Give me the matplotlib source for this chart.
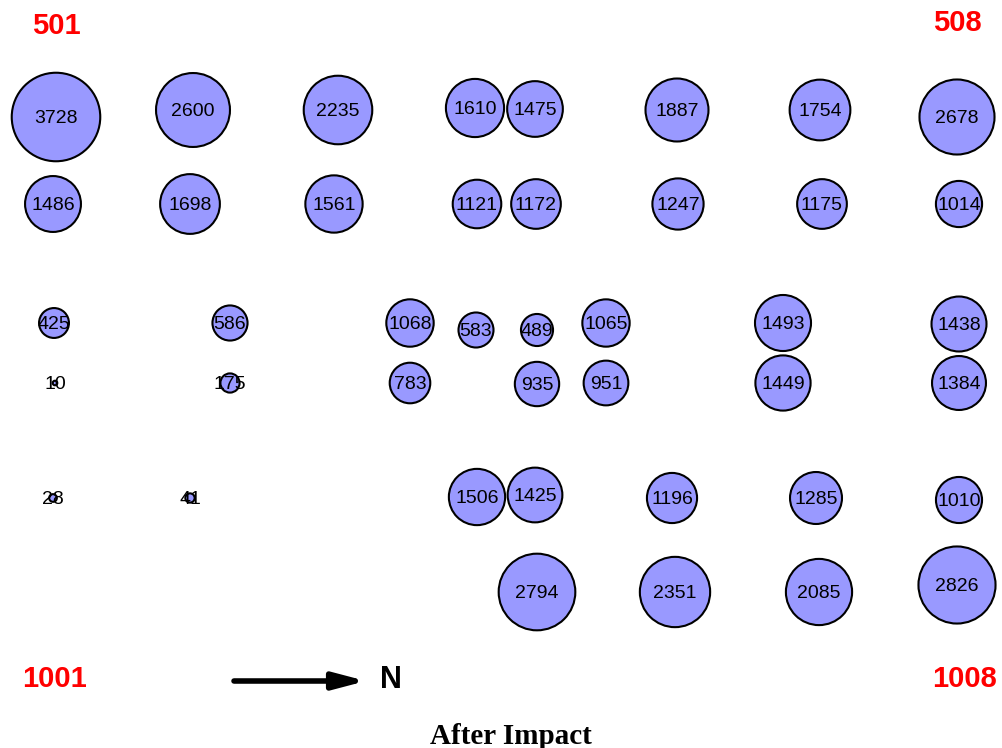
import matplotlib
matplotlib.use("Agg")
import matplotlib.pyplot as plt
from matplotlib.patches import Circle
import numpy as np

# plot layout (field coordinates) and counts after impact
counts = [3728, 2600, 2235, 1610, 1475, 1887, 1754, 2678,
          1486, 1698, 1561, 1121, 1172, 1247, 1175, 1014,
          425, 586, 1068, 583, 489, 1065, 1493, 1438,
          10, 175, 783, 935, 951, 1449, 1384,
          28, 41, 1506, 1425, 1196, 1285, 1010,
          2794, 2351, 2085, 2826]
plot_x = [56, 193, 338, 475, 535, 677, 820, 957,
          53, 190, 334, 477, 536, 678, 822, 959,
          54, 230, 410, 476, 537, 606, 783, 959,
          55, 230, 410, 537, 606, 783, 959,
          53, 190, 477, 535, 672, 816, 959,
          537, 675, 819, 957]
plot_y = [117, 110, 110, 108, 109, 110, 110, 117,
          204, 204, 204, 204, 204, 204, 204, 204,
          323, 323, 323, 330, 330, 323, 323, 324,
          383, 383, 383, 384, 383, 383, 383,
          498, 498, 497, 495, 498, 498, 500,
          592, 592, 592, 585]

corner_labels = ["501", "508", "1001", "1008"]
corner_x = [56, 957, 55, 965]
corner_y = [25, 22, 678, 678]

title = "After Impact"

fig = plt.figure(figsize=(10.03, 7.48), dpi=100)
ax = fig.add_axes([0, 0, 1, 1])
ax.set_xlim(0, 1003)
ax.set_ylim(748, 0)
ax.set_aspect("equal")
ax.axis("off")

# bubble area proportional to count
k = 0.725
for v, x, y in zip(counts, plot_x, plot_y):
    ax.add_patch(Circle((x, y), k * np.sqrt(v), facecolor="#9999ff",
                        edgecolor="black", linewidth=1.5, zorder=2))
    ax.text(x, y + 1.5, str(v), ha="center", va="center", fontsize=14,
            family="Liberation Sans", color="black", zorder=3)

for lab, x, y in zip(corner_labels, corner_x, corner_y):
    ax.text(x, y + 1, lab, ha="center", va="center", fontsize=21,
            fontweight="bold", family="Liberation Sans", color="red")

# north arrow
ax.annotate("", xy=(366, 681), xytext=(234, 681),
            arrowprops=dict(arrowstyle="-|>,head_length=1.9,head_width=0.5",
                            color="black", lw=4, shrinkA=0, shrinkB=0))
ax.text(391, 680, "N", ha="center", va="center", fontsize=22,
        fontweight="bold", family="Liberation Sans", color="black")

ax.text(511, 736, title, ha="center", va="center", fontsize=21,
        fontweight="bold", family="Liberation Serif", color="black")

fig.savefig("out.png", dpi=100)
